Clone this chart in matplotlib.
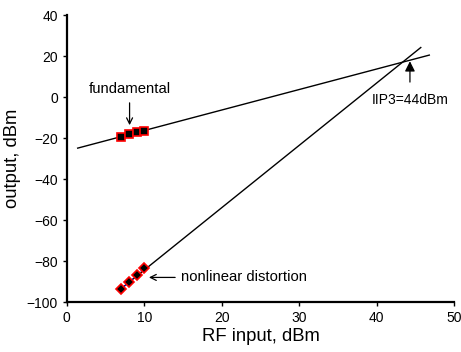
import matplotlib

matplotlib.use("Agg")
import matplotlib.pyplot as plt

# measured points
fund_x = [7, 8, 9, 10]
fund_y = [-19.3, -18.2, -17.2, -16.3]
dist_x = [7, 8, 9, 10]
dist_y = [-93.8, -90.4, -87.0, -83.3]

# fitted lines (slope 1 and slope 3)
fund_line_x = [1.4, 46.8]
fund_line_y = [-24.9, 20.5]
dist_line_x = [7, 45.7]
dist_line_y = [-93.5, 24.2]

x_ticks = [0, 10, 20, 30, 40, 50]
y_ticks = [-100, -80, -60, -40, -20, 0, 20, 40]

plt.rcParams.update(
    {
        "font.family": ["Liberation Sans", "DejaVu Sans"],
        "axes.unicode_minus": True,
    }
)

fig = plt.figure(figsize=(4.61, 3.52), dpi=100)
ax = fig.add_axes([0.145, 0.142, 0.84, 0.815])

ax.plot(fund_line_x, fund_line_y, color="black", linewidth=1.0)
ax.plot(dist_line_x, dist_line_y, color="black", linewidth=1.0)

ax.plot(fund_x, fund_y, color="blue", linewidth=0.6, linestyle="--",
        marker="s", markersize=6, markerfacecolor="black",
        markeredgecolor="red", markeredgewidth=1.2, zorder=3)
ax.plot(dist_x, dist_y, color="blue", linewidth=0.6, linestyle="--",
        marker="D", markersize=5.5, markerfacecolor="black",
        markeredgecolor="red", markeredgewidth=1.2, zorder=3)

ax.annotate("fundamental", xy=(8.1, -13.7), xytext=(8.1, 4.0),
            ha="center", va="center", fontsize=10.7,
            arrowprops=dict(arrowstyle="->", color="black", lw=0.9,
                            shrinkA=3, shrinkB=0))
ax.annotate("nonlinear distortion", xy=(10.6, -88.0), xytext=(14.7, -88.0),
            ha="left", va="center", fontsize=10.7,
            arrowprops=dict(arrowstyle="->", color="black", lw=0.9,
                            shrinkA=2, shrinkB=0))
ax.annotate("IIP3=44dBm", xy=(44.3, 17.5), xytext=(44.3, -1.5),
            ha="center", va="center", fontsize=10,
            arrowprops=dict(arrowstyle="-|>", color="black", lw=0.9,
                            mutation_scale=15, shrinkA=6, shrinkB=0))

ax.set_xlim(0, 50)
ax.set_ylim(-100, 40)
ax.set_xticks(x_ticks)
ax.set_yticks(y_ticks)
ax.tick_params(direction="out", length=3, width=1, labelsize=10)
ax.spines["top"].set_visible(False)
ax.spines["right"].set_visible(False)
ax.spines["left"].set_linewidth(1.6)
ax.spines["bottom"].set_linewidth(1.6)
ax.set_xlabel("RF input, dBm", fontsize=13.3, labelpad=2)
ax.set_ylabel("output, dBm", fontsize=13.3, labelpad=4)

fig.savefig("out.png", dpi=100)
